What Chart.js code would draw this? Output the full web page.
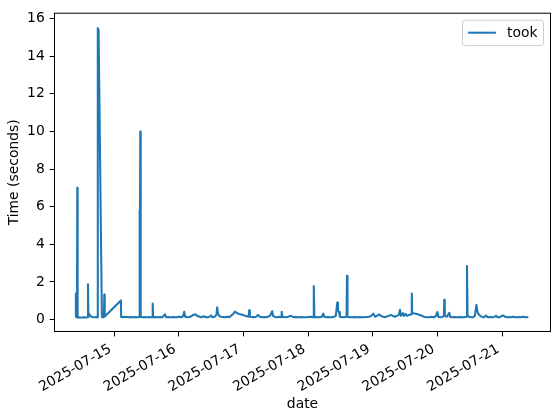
<!DOCTYPE html>
<html><head><meta charset="utf-8">
<script src="https://cdn.jsdelivr.net/npm/chart.js@4.4.1/dist/chart.umd.min.js"></script>
<style>html,body{margin:0;padding:0;background:#fff}#wrap{width:555px;height:419px}</style>
</head><body><div id="wrap"><canvas id="c" width="555" height="419"></canvas></div>
<script>
const baseDate = '2025-07-15';
const seriesName = 'took';
// hours after 2025-07-15 00:00
const hours = [
-14.35,-14.25,-14.1,-13.85,-13.73,-13.6,-13.0,-12.2,-11.4,-10.6,
-9.9,-9.76,-9.6,-9.28,-8.8,-8.1,-7.4,-6.6,-6.2,-6.12,
-5.98,-5.83,-4.6,-4.2,-3.85,-3.71,-3.55,2.45,2.55,3.3,
4.2,5.1,6.0,6.9,7.8,8.7,9.2,9.35,9.5,9.65,
9.8,10.5,11.3,12.1,12.9,13.7,14.15,14.25,14.4,15.2,
16.0,16.9,17.8,18.82,19.3,20.1,20.9,21.7,22.5,23.3,
24.1,24.9,25.6,25.94,26.3,27.1,27.9,28.6,29.3,30.1,
30.8,31.6,32.4,33.1,33.8,34.6,35.3,35.9,36.5,37.2,
37.9,38.19,38.5,38.9,39.6,40.4,41.1,41.9,42.6,43.3,
44.1,44.79,45.5,46.3,47.0,47.7,48.5,49.2,49.85,50.06,
50.3,51.1,51.8,52.6,53.33,54.0,54.8,55.5,56.3,57.0,
57.8,58.6,58.9,59.6,60.3,61.1,61.95,62.12,62.35,63.0,
63.7,64.5,65.57,66.3,67.4,68.5,69.6,70.7,71.8,72.9,
73.85,74.04,74.25,74.9,75.6,76.4,77.0,77.56,78.0,78.6,
79.3,80.0,80.8,81.5,82.2,82.76,83.0,83.4,83.7,84.5,
85.2,86.2,86.36,86.55,87.1,87.9,89.0,90.1,91.2,92.4,
93.5,94.6,95.4,96.12,96.8,97.5,98.23,99.0,99.7,100.4,
101.2,101.9,102.68,103.4,104.1,104.9,105.6,106.02,106.4,107.14,
107.5,108.07,108.6,109.4,110.3,110.4,110.55,112.33,114.19,114.9,
115.6,116.4,117.1,117.8,118.6,119.4,119.87,120.3,120.9,121.7,
122.3,122.46,122.65,123.4,124.32,124.6,125.3,126.4,127.5,128.6,
129.7,130.7,130.89,131.1,131.6,132.4,133.1,133.8,134.41,134.7,
135.1,135.8,136.5,137.2,137.94,138.6,139.4,140.1,140.9,141.65,
142.4,143.1,143.8,144.43,145.0,145.8,146.5,147.2,148.0,148.7,
149.4,150.2,150.9,151.6,152.4,153.0,153.64
];
const took = [
0.14,1.38,0.12,0.15,7.0,0.10,0.12,0.10,0.13,0.11,
0.12,1.88,0.14,0.30,0.18,0.14,0.12,0.13,0.12,15.5,
13.0,15.4,0.15,0.12,0.14,1.33,0.16,1.02,0.14,0.13,
0.15,0.12,0.13,0.12,0.14,0.12,0.14,5.8,0.3,10.0,
0.14,0.12,0.14,0.12,0.13,0.12,0.13,0.85,0.12,0.13,
0.12,0.14,0.12,0.28,0.12,0.13,0.12,0.14,0.12,0.13,
0.15,0.12,0.2,0.42,0.15,0.12,0.14,0.18,0.25,0.28,
0.2,0.15,0.12,0.18,0.13,0.12,0.15,0.22,0.12,0.15,
0.25,0.65,0.3,0.2,0.15,0.14,0.12,0.15,0.13,0.2,
0.3,0.42,0.35,0.3,0.28,0.25,0.2,0.18,0.15,0.5,
0.15,0.14,0.13,0.15,0.25,0.15,0.12,0.14,0.12,0.15,
0.2,0.45,0.2,0.14,0.12,0.15,0.12,0.42,0.15,0.14,
0.12,0.15,0.2,0.14,0.13,0.12,0.14,0.12,0.13,0.15,
0.12,1.78,0.12,0.14,0.12,0.13,0.15,0.32,0.15,0.12,
0.14,0.12,0.13,0.15,0.2,0.9,0.5,0.4,0.15,0.13,
0.12,0.15,2.33,0.15,0.13,0.12,0.14,0.12,0.13,0.12,
0.14,0.15,0.2,0.32,0.15,0.2,0.28,0.2,0.15,0.13,
0.16,0.2,0.25,0.2,0.15,0.2,0.25,0.52,0.2,0.35,
0.2,0.3,0.2,0.25,0.28,1.38,0.35,0.3,0.2,0.15,
0.13,0.12,0.13,0.15,0.12,0.2,0.4,0.15,0.12,0.14,
0.2,1.05,0.2,0.15,0.36,0.15,0.12,0.13,0.12,0.14,
0.12,0.15,2.85,0.2,0.15,0.13,0.12,0.2,0.78,0.45,
0.3,0.2,0.14,0.12,0.22,0.12,0.13,0.12,0.14,0.2,
0.12,0.13,0.2,0.22,0.15,0.12,0.14,0.12,0.15,0.13,
0.12,0.14,0.12,0.15,0.13,0.12,0.14
];
const dayTicks = ['2025-07-15','2025-07-16','2025-07-17','2025-07-18','2025-07-19','2025-07-20','2025-07-21'];
const yTicks = [0,2,4,6,8,10,12,14,16];

function dayMs(s){const p=s.split('-').map(Number);return Date.UTC(p[0],p[1]-1,p[2]);}
const baseMs = dayMs(baseDate);
const tickHours = dayTicks.map(d => (dayMs(d)-baseMs)/3600000);
const points = hours.map((h,i)=>({x:h, y:took[i]}));

const FS = 13.9;
const FONT = {family:'DejaVu Sans', size:FS};

const frame = {
  id:'frame',
  afterDraw(chart){
    const {ctx, chartArea:a} = chart;
    ctx.save();
    ctx.strokeStyle='#000'; ctx.lineWidth=1;
    ctx.strokeRect(a.left, a.top, a.right-a.left, a.bottom-a.top);
    // legend
    const w=81, h=25.5, x=a.right-7-w, y=a.top+7;
    ctx.beginPath();
    ctx.roundRect(x, y, w, h, 3);
    ctx.fillStyle='rgba(255,255,255,0.8)'; ctx.fill();
    ctx.strokeStyle='#cccccc'; ctx.lineWidth=1; ctx.stroke();
    ctx.beginPath();
    ctx.moveTo(x+5.6, y+12.5); ctx.lineTo(x+33.4, y+12.5);
    ctx.strokeStyle='#1f77b4'; ctx.lineWidth=2.08; ctx.stroke();
    ctx.fillStyle='#000'; ctx.font=FS+'px "DejaVu Sans"';
    ctx.textBaseline='middle'; ctx.textAlign='left';
    ctx.fillText(seriesName, x+44.5, y+13);
    ctx.restore();
  }
};

new Chart(document.getElementById('c'), {
  type:'line',
  data:{datasets:[{label:seriesName, data:points, borderColor:'#1f77b4', borderWidth:2.08,
    pointRadius:0, tension:0, fill:false, borderJoinStyle:'round', borderCapStyle:'butt'}]},
  options:{
    responsive:false, animation:false, devicePixelRatio:1,
    layout:{padding:{top:5.5, right:4.5, left:0, bottom:0}},
    plugins:{legend:{display:false}, tooltip:{enabled:false}},
    scales:{
      x:{type:'linear', min:-22.19, max:161.88,
        afterBuildTicks(s){ s.ticks = tickHours.map(v=>({value:v})); },
        afterFit(s){ s.height = 87.5; },
        ticks:{autoSkip:false, minRotation:30, maxRotation:30, color:'#000', font:FONT, padding:4.5, labelOffset:-4,
          callback:(v,i)=>dayTicks[i]},
        grid:{drawOnChartArea:false, drawTicks:true, tickLength:4.86, color:'#000', lineWidth:1},
        border:{display:false},
        title:{display:true, text:'date', color:'#000', font:FONT, padding:{top:0, bottom:6.5}}
      },
      y:{type:'linear', min:-0.633, max:16.285,
        afterBuildTicks(s){ s.ticks = yTicks.map(v=>({value:v})); },
        afterFit(s){ s.width = 54.5; },
        ticks:{color:'#000', font:FONT, padding:4.86},
        grid:{drawOnChartArea:false, drawTicks:true, tickLength:4.86, color:'#000', lineWidth:1},
        border:{display:false},
        title:{display:true, text:'Time (seconds)', color:'#000', font:FONT, padding:{top:6, bottom:0}}
      }
    }
  },
  plugins:[frame]
});
</script></body></html>
